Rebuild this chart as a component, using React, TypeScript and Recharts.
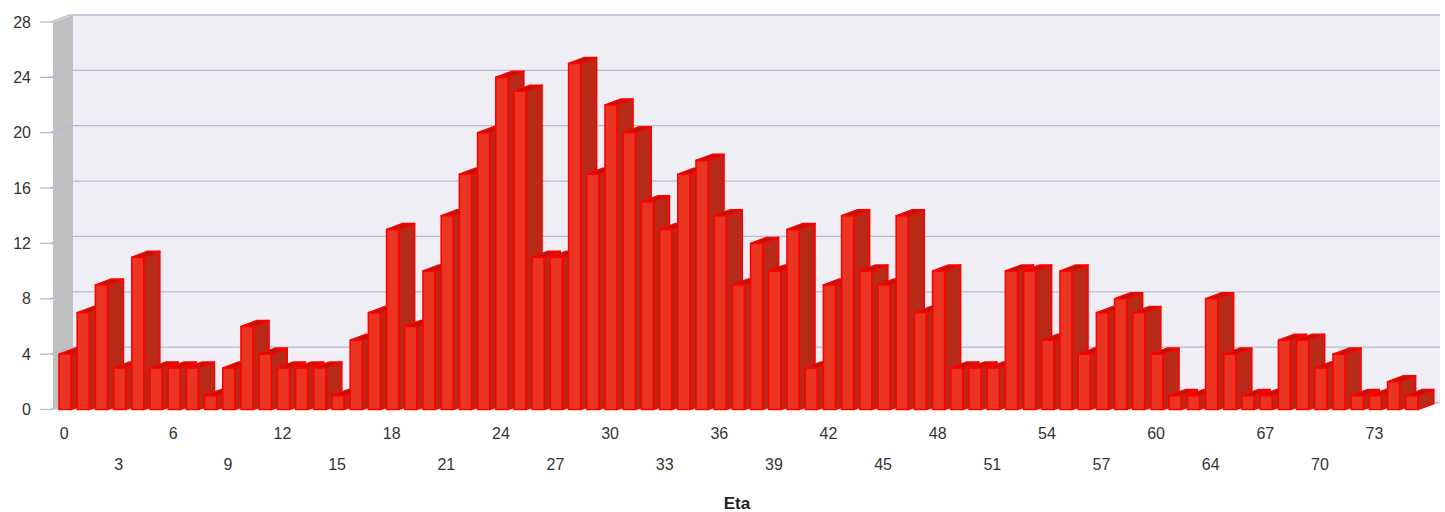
import React from 'react';
import { BarChart, Bar, XAxis, YAxis, ReferenceArea, ReferenceLine } from 'recharts';

const categories = [
  '0','1','2','3','4','5','6','7','8','9','10','11','12','13','14','15','16','17','18','19',
  '20','21','22','23','24','25','26','27','28','29','30','31','32','33','34','35','36','37','38','39',
  '40','41','42','43','44','45','46','47','48','49','50','51','52','53','54','55','56','57','58','59',
  '60','61','62','64','65','66','67','68','69','70','71','72','73','74','75',
];
const counts = [
  4,7,9,3,11,3,3,3,1,3,6,4,3,3,3,1,5,7,13,6,
  10,14,17,20,24,23,11,11,25,17,22,20,15,13,17,18,14,9,12,10,
  13,3,9,14,10,9,14,7,10,3,3,3,10,10,5,10,4,7,8,7,
  4,1,1,8,4,1,1,5,5,3,4,1,1,2,1,
];
const yTicks = [0, 4, 8, 12, 16, 20, 24, 28];
const rows = categories.map((eta, i) => ({ eta, count: counts[i] }));

const DX = 20;
const DY = 7;
const BAR_DX = 16;
const BAR_DY = 6;
const PAD_LEFT = 3;
const FONT = '"Liberation Sans", Arial, sans-serif';
const GRID = '#b9b9d2';

const Walls = (p: any) => {
  const { x: x0, y, width, height } = p;
  const x = x0 - PAD_LEFT;
  const b = y + height;
  const r = x0 + width - 1;
  return (
    <g>
      <polygon points={`${x + DX},${y - DY} ${r + DX},${y - DY} ${r + DX},${b - DY} ${x + DX},${b - DY}`} fill="#eeeef4" />
      <polygon points={`${x},${y} ${x + DX},${y - DY} ${x + DX},${b - DY} ${x},${b}`} fill="#c0c0c0" />
      <polygon points={`${x},${b} ${x + DX},${b - DY} ${r + DX},${b - DY} ${r},${b}`} fill="#c4c4c4" />
    </g>
  );
};

const GridLine = (p: any) => {
  const { x1, x2, y1 } = p;
  const x = x1 - PAD_LEFT;
  return (
    <polyline
      points={`${x},${y1} ${x + DX},${y1 - DY} ${x2 - 1 + DX},${y1 - DY}`}
      fill="none"
      stroke={GRID}
      strokeWidth={1.3}
    />
  );
};

const Bar3D = (p: any) => {
  const { x, y, width: w, height: h } = p;
  if (!h) return null;
  const b = y + h;
  const r = x + w;
  return (
    <g stroke="#ff0000" strokeWidth={1.6} strokeLinejoin="round">
      <polygon points={`${r},${y} ${r + BAR_DX},${y - BAR_DY} ${r + BAR_DX},${b - BAR_DY} ${r},${b}`} fill="#b72a18" />
      <polygon points={`${x},${y} ${x + BAR_DX},${y - BAR_DY} ${r + BAR_DX},${y - BAR_DY} ${r},${y}`} fill="#a81d10" />
      <rect x={x} y={y} width={w} height={h} fill="#ea3522" />
    </g>
  );
};

const EtaTick = (p: any) => {
  const { x, payload } = p;
  const row = categories.indexOf(String(payload.value)) / 3;
  const lower = row % 2 === 1;
  return (
    <text x={x - 1} y={lower ? 470 : 439} textAnchor="middle" fontSize={16} fontFamily={FONT} fill="#333">
      {payload.value}
    </text>
  );
};

export default function App() {
  return (
    <div style={{ position: 'absolute', left: 0, top: 0, width: 1445, height: 512, overflow: 'hidden', background: '#fff' }}>
      <BarChart
        width={1445}
        height={512}
        data={rows}
        margin={{ top: 22, right: 24, bottom: 0, left: 0 }}
        barCategoryGap={0}
      >
        <XAxis
          dataKey="eta"
          interval={2}
          height={102.5}
          padding={{ left: PAD_LEFT, right: 0 }}
          axisLine={false}
          tickLine={false}
          tick={EtaTick}
          label={{ value: 'Eta', position: 'insideBottom', offset: 3, fontSize: 17, fontWeight: 700, fontFamily: FONT, fill: '#222' }}
        />
        <YAxis
          width={53}
          domain={[0, 28]}
          ticks={yTicks}
          interval={0}
          axisLine={false}
          tickSize={13}
          tickMargin={9}
          tickLine={{ stroke: GRID, strokeWidth: 1.3 }}
          tick={{ fontSize: 16, fontFamily: FONT, fill: '#333' }}
        />
        <ReferenceArea y1={0} y2={28} shape={Walls} zIndex={90} />
        {yTicks.map((t) => (
          <ReferenceLine key={t} y={t} shape={GridLine} zIndex={95} />
        ))}
        <Bar dataKey="count" barSize={12} shape={Bar3D} isAnimationActive={false} />
      </BarChart>
    </div>
  );
}
